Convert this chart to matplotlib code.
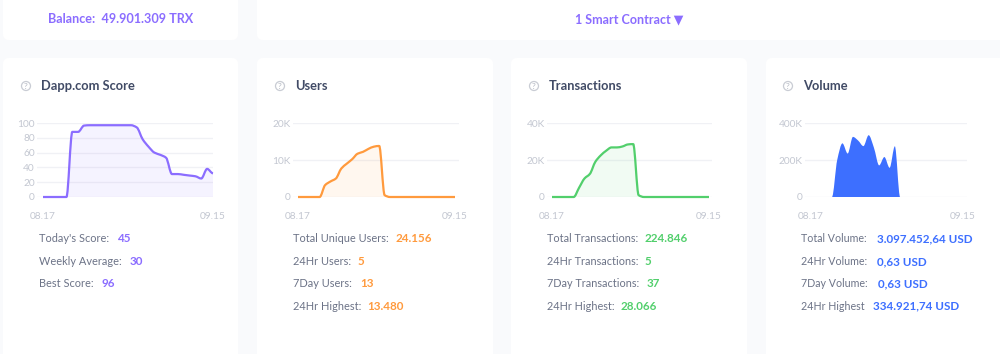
import matplotlib
matplotlib.use("Agg")
import matplotlib.pyplot as plt
from matplotlib.patches import FancyBboxPatch, Circle, PathPatch
from matplotlib.path import Path

plt.rcParams['font.family'] = ['Lato', 'DejaVu Sans']

dates = ["08.17", "09.15"]
score = [0,0,0,0,0,88,88,96.5,97,97,97,97,97,97,97,97,94,78,68,60,57,53,31,31,30,29,28,25,38,32]
users = [0,0,0,0,0,3200,4200,5000,7700,9000,10200,11700,12200,13000,13600,13800,500,0,0,0,0,0,0,0,0,0,0,0,0,0]
txs = [0,0,0,0,0,5000,10000,12500,19000,22500,25000,26800,26800,27300,28400,28600,1000,0,0,0,0,0,0,0,0,0,0,0,0,0]
volume = [0,0,0,0,0,200000,290000,235000,325000,305000,275000,334000,267000,171000,216000,158000,274000,0,0,0,0,0,0,0,0,0,0,0,0,0]

score_ticks = [0,20,40,60,80,100]
score_labels = ["0","20","40","60","80","100"]
users_ticks = [0,10000,20000]
users_labels = ["0","10K","20K"]
txs_ticks = [0,20000,40000]
txs_labels = ["0","20K","40K"]
vol_ticks = [0,200000,400000]
vol_labels = ["0","200K","400K"]

PURPLE, ORANGE, GREEN, BLUE = "#8b6dff", "#ff9a3d", "#52cf6c", "#3d6fff"
W, H = 1000, 354
BG, TITLE, LABEL, TICK, GRID = "#f9fafc", "#414b66", "#6c7387", "#c3c7d1", "#f0f1f5"


def monotone_path(xs, ys):
    """Bezier curve through the data values, as a monotone-smoothed chart line draws them."""
    n = len(xs)
    slopes = [ys[i+1] - ys[i] for i in range(n-1)]
    tang = [0.0]*n
    for i in range(1, n-1):
        a, b = slopes[i-1], slopes[i]
        tang[i] = 0.0 if a*b <= 0 else 2*a*b/(a+b)
    verts = [(xs[0], ys[0])]
    codes = [Path.MOVETO]
    for i in range(n-1):
        verts += [(xs[i]+1/3, ys[i]+tang[i]/3), (xs[i+1]-1/3, ys[i+1]-tang[i+1]/3), (xs[i+1], ys[i+1])]
        codes += [Path.CURVE4]*3
    return verts, codes


fig = plt.figure(figsize=(W/100, H/100), dpi=100, facecolor=BG)
bg = fig.add_axes([0, 0, 1, 1], zorder=0)
bg.set_xlim(0, W); bg.set_ylim(H, 0); bg.axis("off")

def card(x0, y0, x1, y1):
    bg.add_patch(FancyBboxPatch((x0+6, y0+6), x1-x0-12, y1-y0-12,
                 boxstyle="round,pad=6,rounding_size=6", fc="white", ec="none", clip_on=False))

card(3, -12, 238, 40)
card(257, -12, 1012, 40)
bg.text(121, 19, "Balance:  49.901.309 TRX", color=PURPLE, fontsize=9.1, fontweight="bold", ha="center", va="center")
bg.text(629, 19, "1 Smart Contract ▼", color=PURPLE, fontsize=9.0, fontweight="bold", ha="center", va="center")

panels = [
    dict(card=(3,238), ax=(37,213,43,213), title="Dapp.com Score", tx=41, ix=26, y=score, ticks=score_ticks, labels=score_labels,
         top=100, color=PURPLE, line=True, fill=0.08, lx=39, ls=7.9,
         rows=[("Today's Score:", "45", 118), ("Weekly Average:", "30", 130), ("Best Score:", "96", 102)]),
    dict(card=(257,493), ax=(293,459,298,455), title="Users", tx=295, ix=280, y=users, ticks=users_ticks, labels=users_labels,
         top=20000, color=ORANGE, line=True, fill=0.08, lx=293, ls=7.9,
         rows=[("Total Unique Users:", "24.156", 396), ("24Hr Users:", "5", 358), ("7Day Users:", "13", 360), ("24Hr Highest:", "13.480", 367)]),
    dict(card=(511,747), ax=(547,712,552,709), title="Transactions", tx=549, ix=534, y=txs, ticks=txs_ticks, labels=txs_labels,
         top=40000, color=GREEN, line=True, fill=0.08, lx=547, ls=7.8,
         rows=[("Total Transactions:", "224.846", 645), ("24Hr Transactions:", "5", 645), ("7Day Transactions:", "37", 647), ("24Hr Highest:", "28.066", 621)]),
    dict(card=(766,1012), ax=(805,967,811,963), title="Volume", tx=803, ix=788, y=volume, ticks=vol_ticks, labels=vol_labels,
         top=400000, color=BLUE, line=False, fill=1.0, lx=801, ls=7.7,
         rows=[("Total Volume:", "3.097.452,64 USD", 877), ("24Hr Volume:", "0,63 USD", 877), ("7Day Volume:", "0,63 USD", 878), ("24Hr Highest", "334.921,74 USD", 873)]),
]

TOP, ZERO = 123, 197
for p in panels:
    card(p["card"][0], 58, p["card"][1], 372)
    bg.add_patch(Circle((p["ix"], 86), 4.5, fc="none", ec="#c9ccd4", lw=0.9))
    bg.text(p["ix"], 86.3, "?", color="#b4b8c2", fontsize=6, ha="center", va="center")
    bg.text(p["tx"], 85.5, p["title"], color=TITLE, fontsize=9.3, fontweight="bold", ha="left", va="center")
    for i, (lab, val, vx) in enumerate(p["rows"]):
        yy = 239 + i*22.4
        bg.text(p["lx"], yy, lab, color=LABEL, fontsize=p["ls"], ha="left", va="center")
        bg.text(vx, yy, val, color=p["color"], fontsize=8.4, fontweight="bold", ha="left", va="center")

    a0, a1, d0, d1 = p["ax"]
    ax = fig.add_axes([a0/W, 1-ZERO/H, (a1-a0)/W, (ZERO-TOP)/H], zorder=1)
    ax.patch.set_alpha(0)
    for s in ax.spines.values():
        s.set_visible(False)
    step = (d1-d0)/29
    ax.set_xlim((a0-d0)/step, (a1-d0)/step)
    ax.set_ylim(0, p["top"])
    xs = list(range(len(p["y"])))
    ax.set_axisbelow(True)
    ax.grid(axis="y", color=GRID, lw=1)
    ax.set_yticks(p["ticks"], p["labels"])
    ax.set_xticks([0, 29], dates)
    ax.tick_params(length=0, colors=TICK, labelsize=7.3)
    ax.tick_params(axis="y", pad=1.5)
    ax.tick_params(axis="x", pad=11)
    verts, codes = monotone_path(xs, p["y"])
    ax.add_patch(PathPatch(Path(verts + [(xs[-1], 0), (xs[0], 0), (xs[0], 0)],
                                codes + [Path.LINETO, Path.LINETO, Path.CLOSEPOLY]),
                           fc=p["color"], alpha=p["fill"], lw=0, zorder=2))
    if p["line"]:
        ax.add_patch(PathPatch(Path(verts, codes), fc="none", ec=p["color"], lw=1.6,
                               joinstyle="round", clip_on=False, zorder=3))

fig.savefig("out.png", dpi=100, facecolor=BG)
